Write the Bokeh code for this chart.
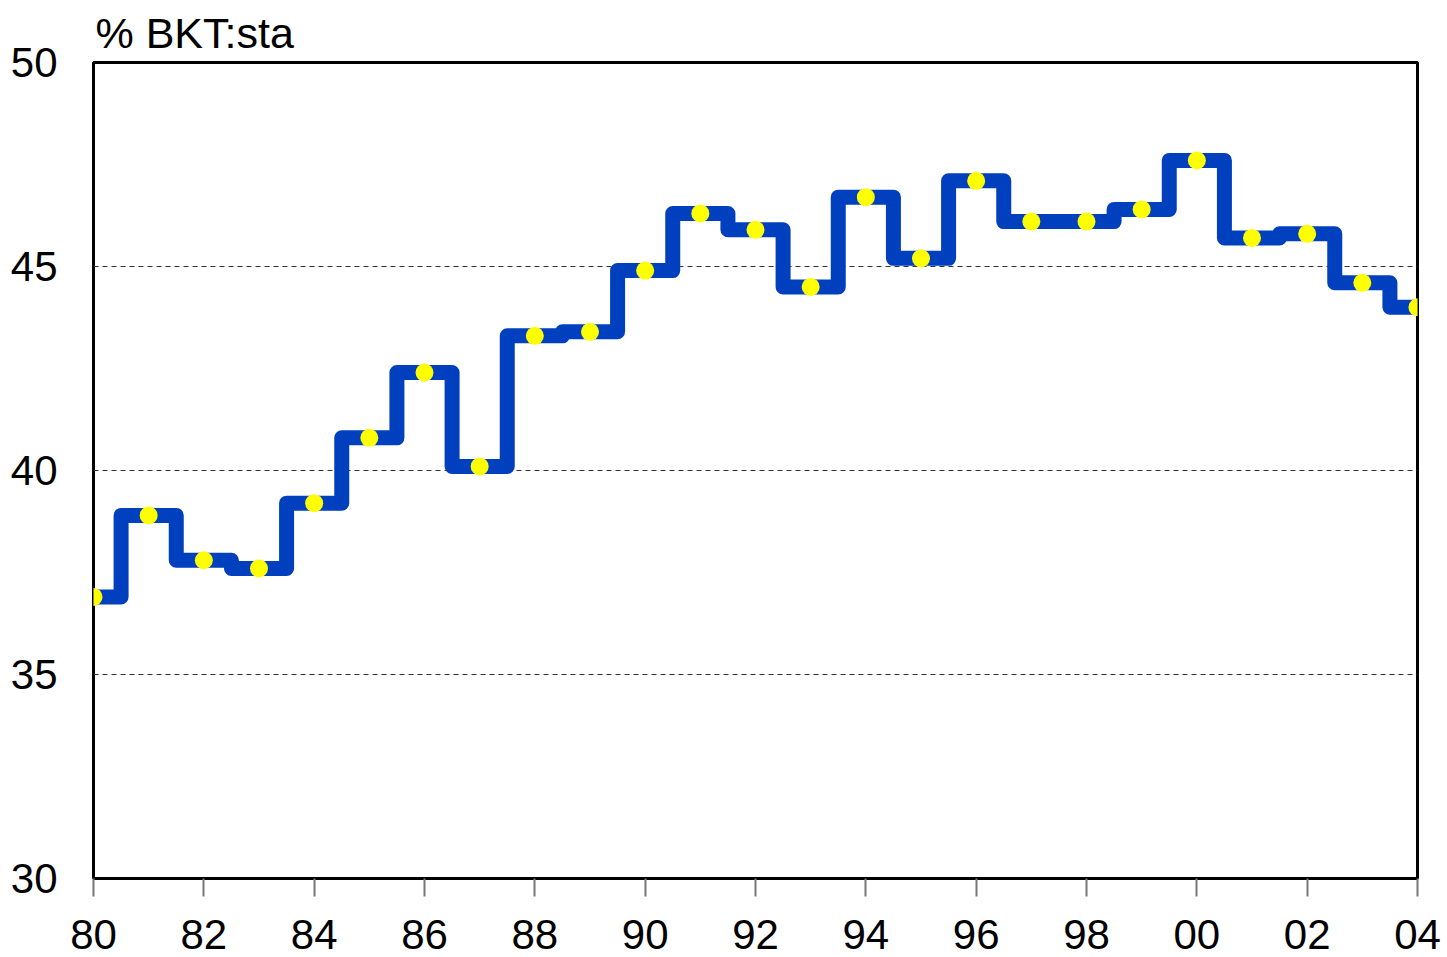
from bokeh.plotting import figure
from bokeh.embed import file_html
from bokeh.resources import INLINE
from bokeh.models import Range1d, FixedTicker
from bokeh.core.properties import value

years = list(range(80, 105))
share = [36.9, 38.9, 37.8, 37.6, 39.2, 40.8, 42.4, 40.1, 43.3, 43.4,
         44.9, 46.3, 45.9, 44.5, 46.7, 45.2, 47.1, 46.1, 46.1, 46.4,
         47.6, 45.7, 45.8, 44.6, 44.0]
x_ticks = list(range(80, 105, 2))
x_tick_labels = {t: "%02d" % (t % 100) for t in x_ticks}
y_ticks = [30, 35, 40, 45, 50]
title_text = "% BKT:sta"

FONT = "Liberation Sans"

p = figure(width=1447, height=957, output_backend="svg", toolbar_location=None,
           x_range=Range1d(80, 104), y_range=Range1d(30, 50),
           min_border_left=93, min_border_right=30, min_border_top=62, min_border_bottom=79)
p.background_fill_color = "white"
p.border_fill_color = "white"
p.outline_line_color = "black"
p.outline_line_width = 3

p.title.text = title_text
p.title.text_font = FONT
p.title.text_font_size = "43px"
p.title.text_font_style = "normal"
p.title.text_color = "black"
p.title.align = "left"
p.title.offset = 2
p.title.standoff = 12

p.xgrid.visible = False
p.ygrid.ticker = FixedTicker(ticks=[35, 40, 45])
p.ygrid.grid_line_color = "#333333"
p.ygrid.grid_line_dash = "5 4"
p.ygrid.grid_line_width = 1

p.xaxis.ticker = FixedTicker(ticks=x_ticks)
p.xaxis.major_label_overrides = x_tick_labels
p.xaxis.axis_line_color = None
p.xaxis.major_tick_line_color = "#777777"
p.xaxis.major_tick_line_width = 2
p.xaxis.major_tick_out = 18
p.xaxis.major_tick_in = 0
p.xaxis.minor_tick_line_color = None
p.xaxis.major_label_standoff = 23

p.yaxis.ticker = FixedTicker(ticks=y_ticks)
p.yaxis.axis_line_color = None
p.yaxis.major_tick_line_color = None
p.yaxis.minor_tick_line_color = None
p.yaxis.major_label_standoff = 30

for ax in (p.xaxis, p.yaxis):
    ax.major_label_text_font = FONT
    ax.major_label_text_font_size = "42px"
    ax.major_label_text_color = "black"

p.step(years, share, mode="center", line_width=15, line_color="#0040BF", line_join="round")
p.scatter(years, share, size=18, fill_color="#FFFF00", line_color=None)

open("out.html", "w").write(file_html(p, INLINE))
